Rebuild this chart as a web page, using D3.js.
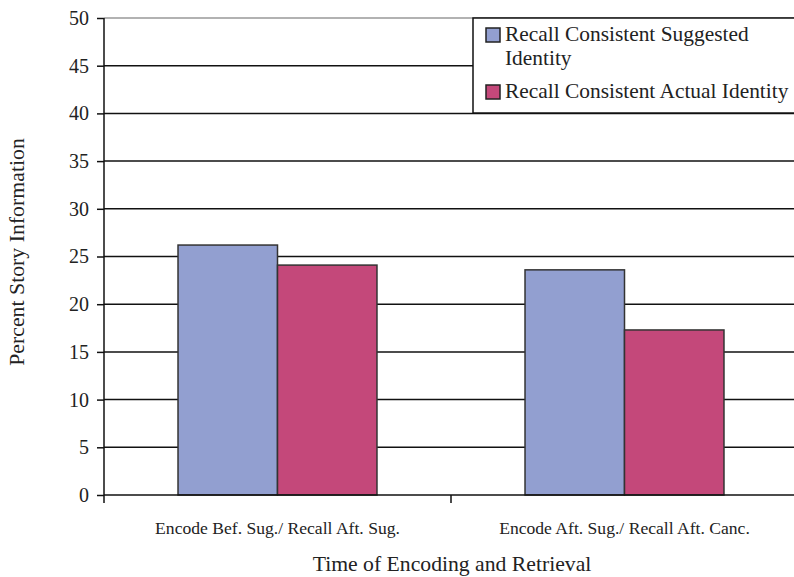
<!DOCTYPE html>
<html><head><meta charset="utf-8">
<script src="https://cdn.jsdelivr.net/npm/d3@7"></script>
<style>body{margin:0;background:#fff}svg{display:block}</style>
</head><body>
<svg id="c" width="794" height="577"></svg>
<script>
const categories = ["Encode Bef. Sug./ Recall Aft. Sug.", "Encode Aft. Sug./ Recall Aft. Canc."];
const seriesNames = ["Recall Consistent Suggested Identity", "Recall Consistent Actual Identity"];
const suggestedValues = [26.2, 23.6];
const actualValues = [24.1, 17.3];
const yTicks = [0, 5, 10, 15, 20, 25, 30, 35, 40, 45, 50];
const colors = ["#929fd0", "#c4487a"];

(function () {
const svg = d3.select("#c");
const font = "'Liberation Serif', 'Times New Roman', serif";
const mLeft = 104, mRight = 798, mTop = 18, mBottom = 495;

const x0 = d3.scaleBand().domain(categories).range([mLeft, mRight]).padding(0);
const x1 = d3.scaleBand().domain(seriesNames).range([0, x0.bandwidth()]).paddingInner(0).paddingOuter(0.744);
const y = d3.scaleLinear().domain([0, 50]).range([mBottom, mTop]);

// gridlines
svg.append("g").selectAll("line").data(yTicks.filter(d => d > 0)).join("line")
  .attr("x1", mLeft).attr("x2", 794)
  .attr("y1", d => y(d)).attr("y2", d => y(d))
  .attr("stroke", d => d === 50 ? "#999" : "#111").attr("stroke-width", 1.5);

// y axis
const yAxis = d3.axisLeft(y).tickValues(yTicks).tickSize(7).tickFormat(d3.format("d"));
const ya = svg.append("g").attr("transform", `translate(${mLeft},0)`).call(yAxis)
  .attr("font-family", font).attr("font-size", 20);
ya.select(".domain").attr("stroke", "#111").attr("stroke-width", 1.5).attr("d", `M0,${mTop}V${mBottom}`);
ya.selectAll(".tick line").attr("stroke", "#111").attr("stroke-width", 1.5);
ya.selectAll(".tick text").attr("fill", "#222").attr("x", -15);

// bars
const data = categories.map((c, i) => ({cat: c, vals: [suggestedValues[i], actualValues[i]]}));
const g = svg.append("g").selectAll("g").data(data).join("g")
  .attr("transform", d => `translate(${x0(d.cat)},0)`);
g.selectAll("rect").data(d => d.vals.map((v, j) => ({s: seriesNames[j], v, j}))).join("rect")
  .attr("x", d => x1(d.s)).attr("width", x1.bandwidth())
  .attr("y", d => y(d.v)).attr("height", d => y(0) - y(d.v))
  .attr("fill", d => colors[d.j]).attr("stroke", "#333").attr("stroke-width", 1.5);

// x axis
svg.append("line").attr("x1", mLeft).attr("x2", 794).attr("y1", mBottom).attr("y2", mBottom)
  .attr("stroke", "#111").attr("stroke-width", 1.5);
const bounds = [mLeft, x0(categories[1])];
svg.append("g").selectAll("line").data(bounds).join("line")
  .attr("x1", d => d).attr("x2", d => d).attr("y1", mBottom).attr("y2", mBottom + 8)
  .attr("stroke", "#111").attr("stroke-width", 1.5);
svg.append("g").selectAll("text").data(categories).join("text")
  .attr("x", d => x0(d) + x0.bandwidth() / 2).attr("y", 534)
  .attr("text-anchor", "middle").attr("font-family", font).attr("font-size", 17.6).attr("fill", "#222")
  .text(d => d);

// axis titles
svg.append("text").attr("x", 452).attr("y", 571).attr("text-anchor", "middle")
  .attr("font-family", font).attr("font-size", 21.7).attr("fill", "#222").text("Time of Encoding and Retrieval");
svg.append("text").attr("transform", "translate(24,252) rotate(-90)").attr("text-anchor", "middle")
  .attr("font-family", font).attr("font-size", 21.8).attr("fill", "#222").text("Percent Story Information");

// legend
const lg = svg.append("g");
lg.append("rect").attr("x", 473).attr("y", 18).attr("width", 330).attr("height", 95)
  .attr("fill", "#fff").attr("stroke", "#111").attr("stroke-width", 1.5);
const legendLines = [["Recall Consistent Suggested", "Identity"], ["Recall Consistent Actual Identity"]];
const legendY = [28, 85];
seriesNames.forEach((s, i) => {
  lg.append("rect").attr("x", 486).attr("y", legendY[i]).attr("width", 14).attr("height", 14)
    .attr("fill", colors[i]).attr("stroke", "#222").attr("stroke-width", 1.5);
  const t = lg.append("text").attr("font-family", font).attr("font-size", 21.4).attr("fill", "#222");
  legendLines[i].forEach((ln, k) => {
    t.append("tspan").attr("x", 505).attr("y", legendY[i] + 13 + k * 24).text(ln);
  });
});
})();
</script>
</body></html>
